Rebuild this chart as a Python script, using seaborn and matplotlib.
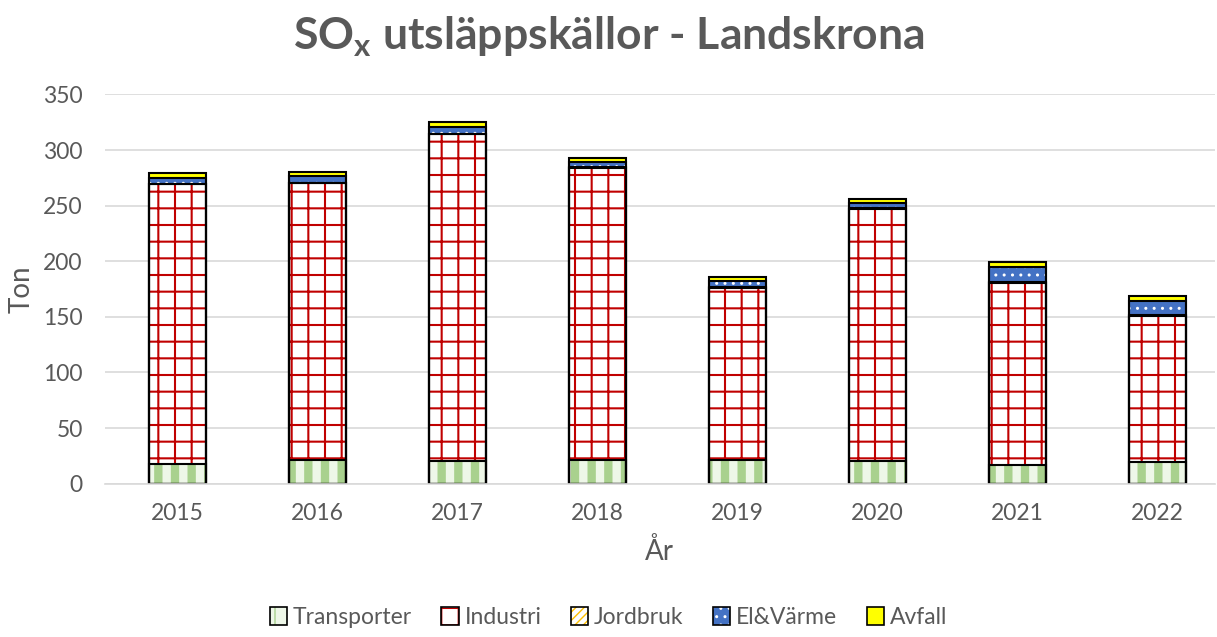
import numpy as np
import pandas as pd
import matplotlib
matplotlib.use("Agg")
import matplotlib.pyplot as plt
import seaborn as sns
from matplotlib.patches import Patch

# data (ton)
years = ["2015", "2016", "2017", "2018", "2019", "2020", "2021", "2022"]
transporter = [18, 21, 20, 21, 21, 20, 17, 19.5]
industri = [251, 249, 294, 263, 155, 227, 163.5, 131.5]
jordbruk = [0.5, 0.5, 0.5, 0.5, 0.5, 0.5, 0.5, 0.5]
el_varme = [5.5, 6, 6.5, 5, 6, 5, 14, 13]
avfall = [4, 4, 4, 3.5, 3.5, 3.5, 4, 4]

names = ["Transporter", "Industri", "Jordbruk", "El&Värme", "Avfall"]
series = [transporter, industri, jordbruk, el_varme, avfall]

# face colour, hatch, hatch colour, hatch width
styles = {
    "Transporter": ("#eef7e8", "|", "#a9d18e", 6.0),
    "Industri": ("white", "+", "#c00000", 1.5),
    "Jordbruk": ("white", "////", "#ffc000", 1.4),
    "El&Värme": ("#4472c4", "..", "white", 1.0),
    "Avfall": ("#ffff00", "", "#ffff00", 1.0),
}

sns.set_style("white")
plt.rcParams["font.family"] = ["Lato", "DejaVu Sans"]
grey = "#595959"

df = pd.DataFrame(dict(zip(names, series)), index=years)
cum = df.cumsum(axis=1)

fig = plt.figure(figsize=(12.17, 6.37), dpi=100)
ax = fig.add_axes([0.0863, 0.2408, 0.9117, 0.611])

bw = 0.41
# fills: from the top layer down so lower layers cover
for name in names[::-1]:
    face, hatch, hcol, hlw = styles[name]
    with plt.rc_context({"hatch.linewidth": hlw}):
        sns.barplot(x=years, y=cum[name].values, color=face, hatch=hatch,
                    edgecolor=hcol, linewidth=0, width=bw, saturation=1,
                    ax=ax, zorder=2)
# black outlines for each segment
for name in names[::-1]:
    sns.barplot(x=years, y=cum[name].values, fill=False, edgecolor="black",
                linewidth=1.5, width=bw, ax=ax, zorder=3)
for p in ax.patches:
    p.set_zorder(3 if not p.get_fill() else 2)

ax.set_ylim(0, 350)
ax.set_xlim(-0.52, 7.41)
ax.set_yticks(range(0, 351, 50))
ax.yaxis.grid(True, color="#d9d9d9", linewidth=1.2, zorder=0)
ax.set_axisbelow(True)
for s in ["top", "right", "left"]:
    ax.spines[s].set_visible(False)
ax.spines["bottom"].set_color("#d9d9d9")
ax.spines["bottom"].set_linewidth(1.2)
ax.tick_params(axis="both", length=0, labelsize=16.5, labelcolor=grey)
ax.tick_params(axis="y", pad=16)
ax.tick_params(axis="x", pad=14)
ax.set_xlabel("År", fontsize=20, color=grey, labelpad=10)
ax.set_ylabel("Ton", fontsize=20, color=grey, labelpad=6)

fig.text(0.5, 0.942, r"SO$_\mathregular{x}$ utsläppskällor - Landskrona",
         ha="center", va="center", fontsize=32, fontweight="bold", color=grey)

handles = []
for name in names:
    face, hatch, hcol, hlw = styles[name]
    fill_p = Patch(facecolor=face, edgecolor=hcol, hatch=hatch, linewidth=0)
    edge_p = Patch(fill=False, edgecolor="black", linewidth=1.2)
    handles.append((fill_p, edge_p))
leg = fig.legend(handles=handles, labels=names, loc="lower center",
                 bbox_to_anchor=(0.5, -0.018), ncol=5, frameon=False,
                 fontsize=16.5, handlelength=0.75, handleheight=0.85,
                 handletextpad=0.25, columnspacing=1.3)
for t in leg.get_texts():
    t.set_color(grey)

fig.savefig("out.png", dpi=100)
